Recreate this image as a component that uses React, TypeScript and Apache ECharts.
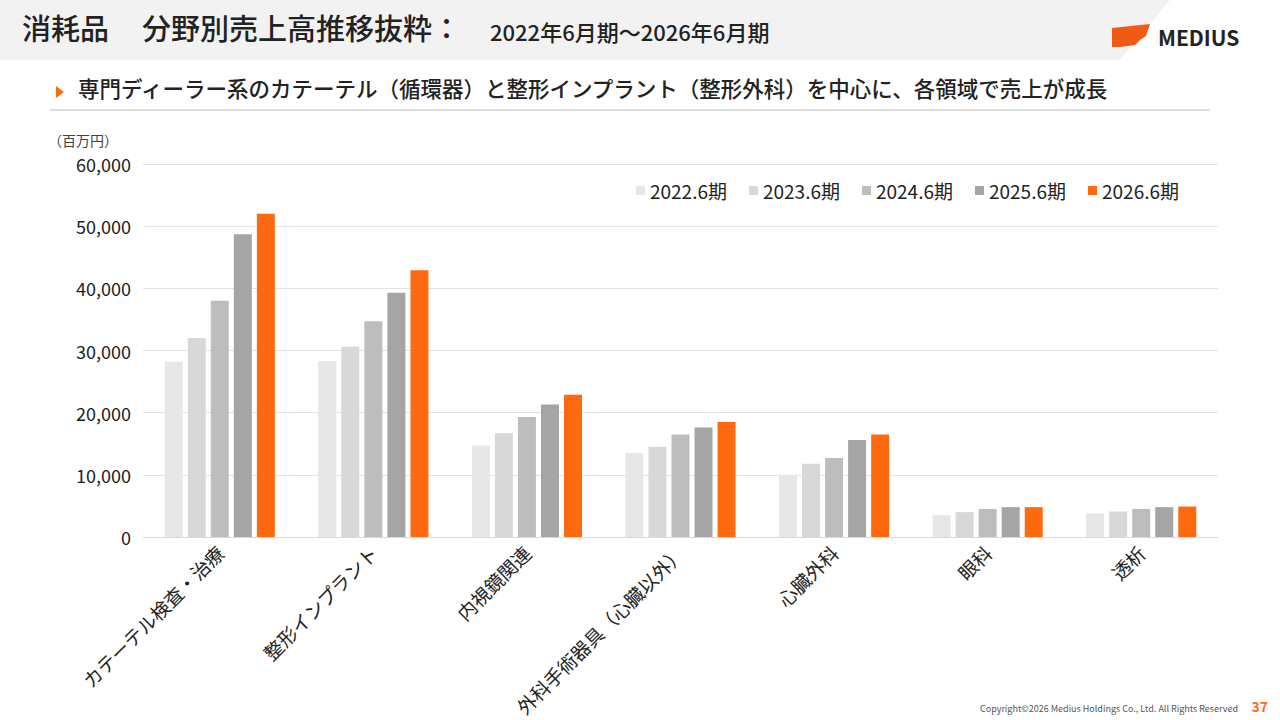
import React, { useEffect, useRef } from "react";
import * as echarts from "echarts";

const categories = ["カテーテル検査・治療", "整形インプラント", "内視鏡関連", "外科手術器具（心臓以外）", "心臓外科", "眼科", "透析"];
const seriesNames = ["2022.6期", "2023.6期", "2024.6期", "2025.6期", "2026.6期"];
const colors = ["#e7e7e7", "#d8d8d8", "#bdbdbd", "#a5a5a5", "#ff6a10"];
const fy2022 = [28200, 28300, 14700, 13500, 10000, 3500, 3800];
const fy2023 = [32000, 30600, 16700, 14500, 11800, 4000, 4100];
const fy2024 = [38000, 34700, 19300, 16500, 12700, 4500, 4500];
const fy2025 = [48700, 39300, 21300, 17600, 15600, 4800, 4800];
const fy2026 = [52000, 42900, 22900, 18500, 16500, 4800, 4900];
const allData = [fy2022, fy2023, fy2024, fy2025, fy2026];

const F = "'Noto Sans CJK JP', 'Noto Sans', sans-serif";

export default function App() {
  const ref = useRef<HTMLDivElement>(null);
  useEffect(() => {
    const chart = echarts.init(ref.current!, null, { renderer: "svg" });
    chart.setOption({
      animation: false,
      backgroundColor: "#fff",
      textStyle: { fontFamily: F },
      graphic: [
        { type: "polygon", shape: { points: [[0, 0], [1170, 0], [1120, 60], [0, 60]] }, style: { fill: "#f2f2f2" } },
        { type: "text", left: 22, top: 12, style: { text: "消耗品", font: `500 29px ${F}`, fill: "#222" } },
        { type: "text", left: 142, top: 12, style: { text: "分野別売上高推移抜粋：", font: `500 29px ${F}`, fill: "#222" } },
        { type: "text", left: 490, top: 20, style: { text: "2022年6月期～2026年6月期", font: `500 22px ${F}`, fill: "#222" } },
        { type: "polygon", shape: { points: [[1112, 28], [1150, 24], [1146, 36], [1140, 40], [1135, 45], [1120, 47], [1112, 47]] }, style: { fill: "#f05a14" } },
        { type: "text", left: 1158, top: 26, style: { text: "MEDIUS", font: `bold 21px ${F}`, fill: "#222" } },
        { type: "polygon", shape: { points: [[56, 86], [64, 92], [56, 98]] }, style: { fill: "#ff6a10" } },
        { type: "text", left: 78, top: 77, style: { text: "専門ディーラー系のカテーテル（循環器）と整形インプラント（整形外科）を中心に、各領域で売上が成長", font: `500 21.5px ${F}`, fill: "#222" } },
        { type: "line", shape: { x1: 50, y1: 110, x2: 1210, y2: 110 }, style: { stroke: "#bbb", lineWidth: 1 } },
        { type: "text", left: 48, top: 133, style: { text: "（百万円）", font: `14px ${F}`, fill: "#444" } },
        { type: "text", right: 42, top: 704, style: { text: "Copyright©2026 Medius Holdings Co., Ltd. All Rights Reserved", font: `9px ${F}`, fill: "#555" } },
        { type: "text", right: 12, top: 699, style: { text: "37", font: `bold 14px ${F}`, fill: "#ff6a10" } },
      ],
      legend: {
        top: 176, right: 96, itemWidth: 9, itemHeight: 9, itemGap: 22, icon: "rect",
        textStyle: { fontSize: 19, color: "#222", fontFamily: F },
        data: seriesNames,
      },
      grid: { left: 143, right: 62, top: 164, bottom: 183, containLabel: false },
      xAxis: {
        type: "category", data: categories,
        axisLine: { lineStyle: { color: "#d9d9d9" } }, axisTick: { show: false },
        axisLabel: { rotate: 45, fontSize: 19, color: "#222", interval: 0, margin: 12 },
      },
      yAxis: {
        type: "value", min: 0, max: 60000, interval: 10000,
        axisLabel: { fontSize: 18, color: "#222", margin: 12, formatter: (v: number) => v.toLocaleString("en-US") },
        splitLine: { lineStyle: { color: "#e3e3e3" } },
      },
      series: allData.map((d, i) => ({
        type: "bar", name: seriesNames[i], data: d, itemStyle: { color: colors[i] },
        barWidth: 18, barGap: "28%",
      })),
    });
    return () => chart.dispose();
  }, []);
  return <div ref={ref} style={{ width: 1280, height: 720, position: "absolute", left: 0, top: 0 }} />;
}
